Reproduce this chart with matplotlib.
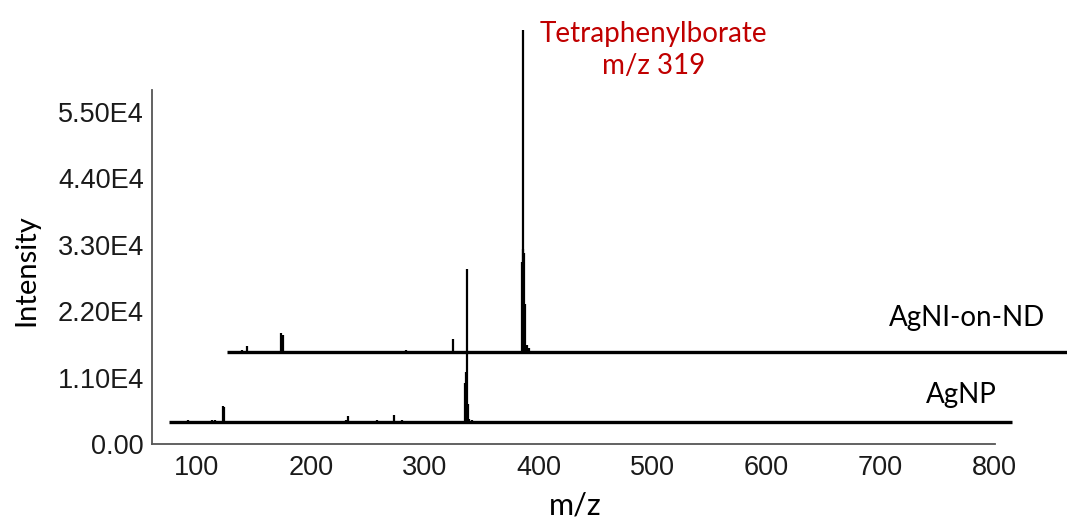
import matplotlib
matplotlib.use("Agg")
import matplotlib.pyplot as plt

# ---------------- data ----------------
# AgNP spectrum (peak m/z, intensity above its baseline)
agnp_mz = [88, 92.4, 95.3, 99.7, 109.9, 112.9, 115.8, 122.5, 123.5, 148, 197.5,
           230.5, 232.6, 258, 273, 280, 335.5, 336.2, 337, 337.8, 339, 341, 343, 418, 470]
agnp_int = [200, 300, 250, 200, 250, 330, 300, 2640, 2500, 200, 200,
            400, 990, 330, 1270, 330, 6500, 8250, 25350, 3000, 500, 350, 250, 250, 180]

# AgNI-on-ND spectrum (peak m/z, intensity above its baseline)
agni_mz = [88.2, 92.9, 99.9, 122.5, 124.8, 232.5, 257.1, 273.5,
           334, 335, 335.5, 336.2, 337, 338.5, 340, 413]
agni_int = [330, 1100, 250, 3300, 2900, 380, 200, 2300,
            15000, 17100, 53300, 16500, 8000, 1300, 700, 250]

mz_range = [75, 815]                       # recorded m/z range of both spectra
trace_names = ["AgNP", "AgNI-on-ND"]
offset_mz = [0, 51]                        # waterfall display offsets
offset_int = [3600, 15150]

x_ticks = [100, 200, 300, 400, 500, 600, 700, 800]
y_ticks = [0, 11000, 22000, 33000, 44000, 55000]
y_tick_labels = ["0.00", "1.10E4", "2.20E4", "3.30E4", "4.40E4", "5.50E4"]

# ---------------- figure ----------------
fig = plt.figure(figsize=(10.67, 5.28), dpi=100)
ax = fig.add_axes([152 / 1067, 1 - 444 / 528, (995 - 152) / 1067, (444 - 90) / 528])
ax.set_xlim(60.5, 800.5)
ax.set_ylim(0, 58600)

for spec_mz, spec_int, dx, dy in [(agnp_mz, agnp_int, offset_mz[0], offset_int[0]),
                                  (agni_mz, agni_int, offset_mz[1], offset_int[1])]:
    ax.plot([mz_range[0] + dx, mz_range[1] + dx], [dy, dy], color="black",
            lw=2.4, solid_capstyle="butt", clip_on=False, zorder=3)
    xs = [m + dx for m in spec_mz]
    tops = [v + dy for v in spec_int]
    ax.vlines(xs, dy, tops, color="black", lw=1.6, clip_on=False, zorder=3)

ax.spines["top"].set_visible(False)
ax.spines["right"].set_visible(False)
for s in ("left", "bottom"):
    ax.spines[s].set_color("#555555")
    ax.spines[s].set_linewidth(1.3)

ax.set_xticks(x_ticks)
ax.set_yticks(y_ticks)
ax.set_yticklabels(y_tick_labels)
ax.tick_params(length=0, labelsize=19.5, labelcolor="#1a1a1a")
ax.tick_params(axis="y", pad=6)
ax.tick_params(axis="x", pad=8)
for lab in ax.get_xticklabels() + ax.get_yticklabels():
    lab.set_family("Liberation Sans")

ax.set_xlabel("m/z", family="Lato", fontsize=22, va="top")
ax.xaxis.set_label_coords((575 - 152) / 843, (444 - 492) / 354)
ax.set_ylabel("Intensity", family="Lato", fontsize=21, va="center", ha="center")
ax.yaxis.set_label_coords((26 - 152) / 843, (444 - 270) / 354)

ax.text(500.4, 65200, "Tetraphenylborate\nm/z 319", color="#C00000", family="Lato",
        fontsize=20, ha="center", va="center", linespacing=1.3)
ax.text(776, 20790, trace_names[1], family="Lato", fontsize=20, ha="center", va="center")
ax.text(771, 8085, trace_names[0], family="Lato", fontsize=20, ha="center", va="center")

fig.savefig("out.png", dpi=100)
